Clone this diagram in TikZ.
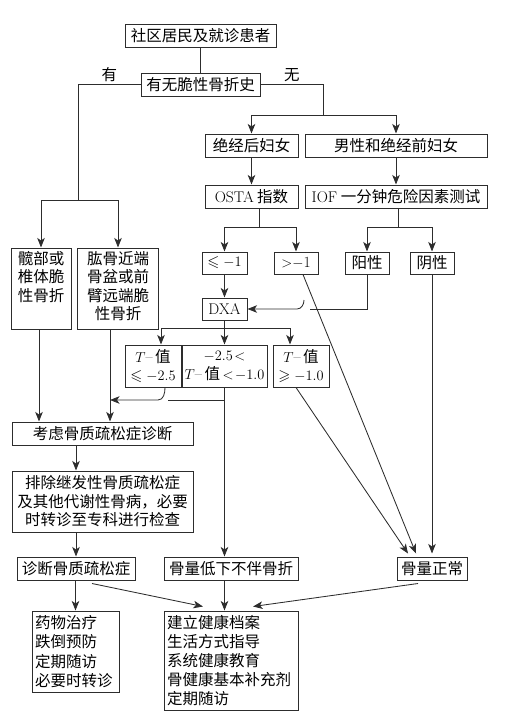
\documentclass[tikz,border=0pt]{standalone}
\usepackage{amsmath}
\usepackage{amssymb}
\usepackage{fontspec}
\usepackage{tikz}
\usetikzlibrary{arrows.meta}
\newfontfamily\cjk{Noto Sans CJK SC}
\newcommand{\latn}[1]{{\rmfamily #1}}
\definecolor{boxgray}{RGB}{45, 45, 45}
\definecolor{linegray}{RGB}{45, 45, 45}

\begin{document}
\begin{tikzpicture}[
        x=1pt, y=-1pt,
        box/.style={rectangle, draw=boxgray, line width=1pt, inner sep=2pt, align=center, font=\cjk\fontsize{15.5}{18.5}\selectfont},
        listbox/.style={box, align=left, font=\cjk\fontsize{15.5}{19.2}\selectfont},
        flow/.style={-{Stealth[length=9.5pt, width=7.5pt, inset=2.5pt]}, line width=0.85pt, draw=linegray},
        link/.style={line width=0.85pt, draw=linegray},
        branch/.style={font=\cjk\fontsize{15.5}{18.5}\selectfont, inner sep=2pt}
    ]
    \useasboundingbox (0,0) rectangle (514,715);

    % Screening start
    \node[box, minimum width=151pt, minimum height=23pt] (people) at (200.5,35.5) {社区居民及就诊患者};
    \node[box, minimum width=119pt, minimum height=23pt] (history) at (200.5,84.5) {有无脆性骨折史};

    % Without fracture: risk assessment
    \node[box, minimum width=93pt, minimum height=23pt] (postmeno) at (251.5,145.5) {绝经后妇女};
    \node[box, minimum width=182pt, minimum height=23pt] (others) at (396,145.5) {男性和绝经前妇女};
    \node[box, minimum width=93pt, minimum height=23pt] (osta) at (251.5,196.5) {\latn{OSTA} 指数};
    \node[box, minimum width=182pt, minimum height=23pt] (iof) at (396,196.5) {\latn{IOF} 一分钟危险因素测试};
    \node[box, minimum width=45pt, minimum height=22pt] (ostalow) at (224.5,263) {\latn{$\leqslant -1$}};
    \node[box, minimum width=44pt, minimum height=22pt] (ostahigh) at (296,263) {\latn{$>$$-$1}};
    \node[box, minimum width=44pt, minimum height=22pt] (iofpos) at (367,263) {阳性};
    \node[box, minimum width=44pt, minimum height=22pt] (iofneg) at (432,263) {阴性};
    \node[box, minimum width=45pt, minimum height=22pt] (dxa) at (224.5,309) {\latn{DXA}};

    % T values
    \node[box, minimum width=56pt, minimum height=42pt] (tlow) at (153,366) {$T$\latn{--}\,值\\\latn{$\leqslant -2.5$}};
    \node[box, minimum width=85pt, minimum height=42pt] (tmid) at (224.5,366) {\latn{$-2.5\!<$}\\$T$\latn{--}\,值\,\latn{$<\!-1.0$}};
    \node[box, minimum width=56pt, minimum height=42pt] (thigh) at (301,366) {$T$\latn{--}\,值\\\latn{$\geqslant -1.0$}};

    % With fracture
    \node[box, minimum width=60pt, minimum height=81pt] (hip) at (41,288.5) {\parbox[c][75pt][t]{56pt}{\centering 髋部或\\椎体脆\\性骨折}};
    \node[box, minimum width=81pt, minimum height=81pt] (arm) at (118,288.5) {\parbox[c][75pt][t]{76pt}{\centering 肱骨近端\\骨盆或前\\臂远端脆\\性骨折}};

    % Diagnosis
    \node[box, minimum width=181pt, minimum height=23pt] (consider) at (102.5,433.5) {考虑骨质疏松症诊断};
    \node[box, minimum width=181pt, minimum height=61pt] (exclude) at (102.5,501.5) {排除继发性骨质疏松症\\及其他代谢性骨病，必要\\时转诊至专科进行检查};
    \node[box, minimum width=118pt, minimum height=23pt] (diag) at (76,568.5) {诊断骨质疏松症};
    \node[box, minimum width=134pt, minimum height=23pt] (lowmass) at (231,568.5) {骨量低下不伴骨折};
    \node[box, minimum width=70pt, minimum height=23pt] (normal) at (432,568.5) {骨量正常};

    % Management
    \node[listbox, minimum width=87pt, minimum height=81pt, text width=81pt] (drug) at (75.5,651.5) {药物治疗\\跌倒预防\\定期随访\\必要时转诊};
    \node[listbox, minimum width=134pt, minimum height=99pt, text width=128pt] (care) at (231,660.5) {建立健康档案\\生活方式指导\\系统健康教育\\骨健康基本补充剂\\定期随访};

    % Turning points
    \coordinate (yesturn) at (78,200);
    \coordinate (noturn) at (323,115);
    \coordinate (ostaturn) at (259,227);
    \coordinate (iofturn) at (398,227);
    \coordinate (hopright) at (310,309);
    \coordinate (hoptop) at (304,300);
    \coordinate (hopleft) at (297,309);
    \coordinate (dxaturn) at (224.5,328);
    \coordinate (tlowbend) at (158,400);
    \coordinate (armjoin) at (110,400);
    \coordinate (midgap) at (168,400);

    % Fracture history
    \draw[link] (people) -- (history);
    \draw[link] (history.west) -| node[branch, above, pos=0.25] {有} (yesturn);
    \draw[flow] (yesturn) -| (hip.north);
    \draw[flow] (yesturn) -| (arm.north);
    \draw[link] (history.east) -| node[branch, above, pos=0.25] {无} (noturn);
    \draw[flow] (noturn) -| (postmeno.north);
    \draw[flow] (noturn) -| (others.north);

    % Risk tests
    \draw[flow] (postmeno) -- (osta);
    \draw[flow] (others) -- (iof);
    \draw[link] (osta.south -| ostaturn) -- (ostaturn);
    \draw[flow] (ostaturn) -| (ostalow.north);
    \draw[flow] (ostaturn) -| (ostahigh.north);
    \draw[link] (iof.south -| iofturn) -- (iofturn);
    \draw[flow] (iofturn) -| (iofpos.north);
    \draw[flow] (iofturn) -| (iofneg.north);
    \draw[flow] (ostalow) -- (dxa);
    \draw[link] (iofpos.south) |- (hopright);
    \draw[flow] (hoptop) to[out=-90, in=0] (hopleft) -- (dxa.east);

    % DXA results
    \draw[link] (dxa.south) -- (dxaturn);
    \draw[flow] (dxaturn) -| ([xshift=8pt]tlow.north);
    \draw[flow] (dxaturn) -- (tmid.north);
    \draw[flow] (dxaturn) -| ([xshift=-11pt]thigh.north);

    % Towards diagnosis
    \draw[flow] ([xshift=-2pt]hip.south) -- ([xshift=-2pt]hip.south |- consider.north);
    \draw[flow] ([xshift=-8pt]arm.south) -- ([xshift=-8pt]arm.south |- consider.north);
    \draw[flow] ([xshift=12pt]tlow.south) to[out=-90, in=0] (tlowbend) -- (armjoin);
    \draw[link] (midgap) -- (tmid.south |- midgap);
    \draw[flow] (tmid.south) -- (tmid.south |- lowmass.north);
    \draw[flow] (consider.south -| diag.north) -- (exclude.north -| diag.north);
    \draw[flow] (exclude.south -| diag.north) -- (diag.north);

    % Normal bone mass
    \draw[flow] ([xshift=7pt]ostahigh.south) -- ([xshift=-16pt,yshift=3pt]normal.north);
    \draw[flow] ([xshift=-5pt]thigh.south) -- ([xshift=-24pt,yshift=3pt]normal.north);
    \draw[flow] (iofneg) -- ([yshift=3pt]normal.north);

    % Management
    \draw[flow] (diag.south -| drug.north) -- (drug.north);
    \draw[flow] ([xshift=16pt,yshift=-3pt]diag.south) -- ([xshift=-28pt,yshift=4pt]care.north);
    \draw[flow] (lowmass.south -| tmid.south) -- (care.north -| tmid.south);
    \draw[flow] ([xshift=-14pt,yshift=-3pt]normal.south) -- ([xshift=22pt,yshift=4pt]care.north);

\end{tikzpicture}
\end{document}
